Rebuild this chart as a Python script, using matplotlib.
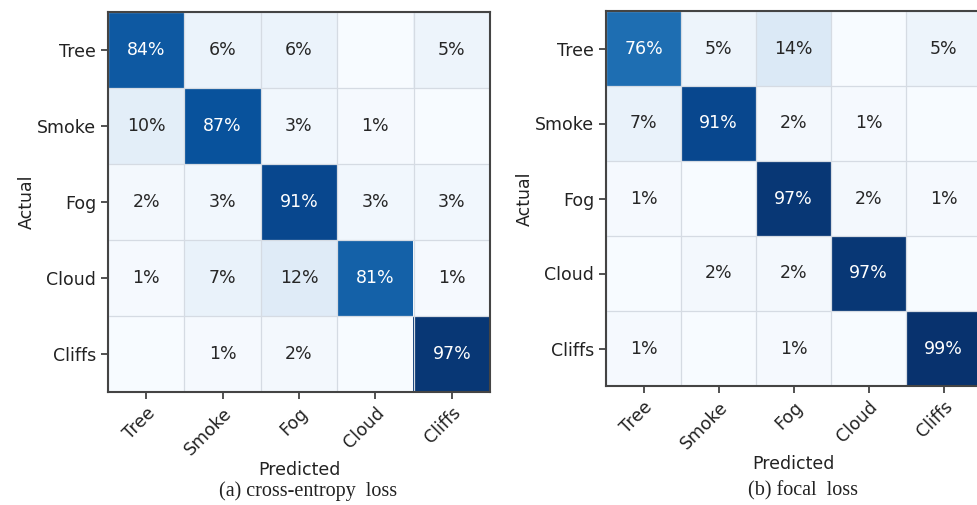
import numpy as np
import matplotlib
matplotlib.use("Agg")
import matplotlib.pyplot as plt

classes = ["Tree", "Smoke", "Fog", "Cloud", "Cliffs"]

# Row-normalised confusion matrices, percent (rows = actual, cols = predicted)
cm_cross_entropy = [
    [84, 6, 6, 0, 5],
    [10, 87, 3, 1, 0],
    [2, 3, 91, 3, 3],
    [1, 7, 12, 81, 1],
    [0, 1, 2, 0, 97],
]
cm_focal = [
    [76, 5, 14, 0, 5],
    [7, 91, 2, 1, 0],
    [1, 0, 97, 2, 1],
    [0, 2, 2, 97, 0],
    [1, 0, 1, 0, 99],
]
captions = ["(a) cross-entropy  loss", "(b) focal  loss"]

plt.rcParams["font.family"] = ["DejaVu Sans"]

fig = plt.figure(figsize=(9.77, 5.05), dpi=100)
W, H = 977, 505
boxes = [(108, 12, 382, 380), (606, 11, 375, 375)]


def draw_matrix(ax, cm):
    data = np.array(cm, dtype=float) / 100.0
    n = len(classes)
    ax.imshow(data, cmap="Blues", vmin=0, vmax=1, aspect="auto",
              interpolation="nearest")
    for i in range(n):
        for j in range(n):
            v = cm[i][j]
            if v == 0:
                continue
            color = "white" if data[i, j] > 0.5 else "#262626"
            ax.text(j, i, f"{v}%", ha="center", va="center",
                    fontsize=12.5, color=color)
    ax.set_xticks(range(n))
    ax.set_yticks(range(n))
    ax.set_xticklabels(classes, rotation=45, ha="right",
                       rotation_mode="anchor", fontsize=12.5)
    ax.set_yticklabels(classes, fontsize=12.5)
    ax.set_xticks(np.arange(-0.5, n, 1), minor=True)
    ax.set_yticks(np.arange(-0.5, n, 1), minor=True)
    ax.grid(which="minor", color="#d5dbe3", linewidth=0.9)
    ax.tick_params(which="minor", length=0)
    ax.tick_params(which="major", length=5, width=1.2, color="#333333",
                   labelcolor="#222222")
    ax.set_xlim(-0.5, n - 0.5)
    ax.set_ylim(n - 0.5, -0.5)
    for s in ax.spines.values():
        s.set_color("#444444")
        s.set_linewidth(1.5)
    ax.set_xlabel("Predicted", fontsize=12.5, color="#222222", labelpad=2)
    ax.set_ylabel("Actual", fontsize=12.5, color="#222222", labelpad=1)


for (x, y, w, h), cm, cap in zip(boxes, [cm_cross_entropy, cm_focal], captions):
    ax = fig.add_axes([x / W, 1 - (y + h) / H, w / W, h / H])
    draw_matrix(ax, cm)
    cx = (x + w / 2 + 9) / W
    fig.text(cx, 1 - 491 / H, cap, ha="center", va="center",
             fontsize=14.5, family="Liberation Serif", color="#222222")

fig.savefig("out.png", dpi=100)
